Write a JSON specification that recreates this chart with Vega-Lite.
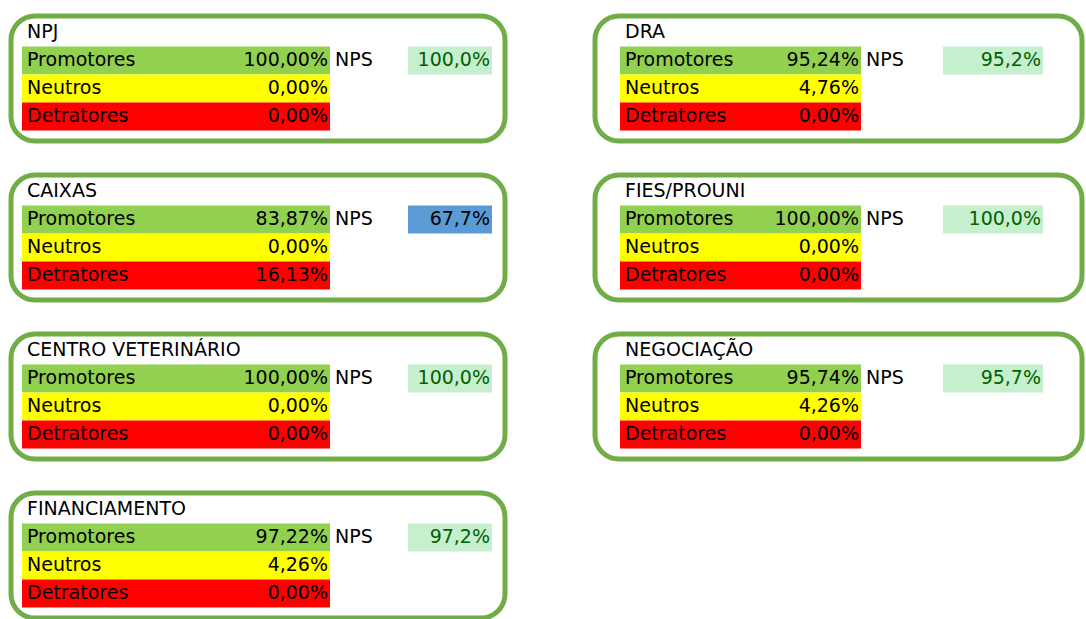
{
  "$schema": "https://vega.github.io/schema/vega-lite/v6.json",
  "background": "white",
  "padding": {"left": 8, "top": 13, "right": 0, "bottom": 0},
  "config": {
    "locale": {"number": {"decimal": ",", "thousands": ".", "grouping": [3], "currency": ["R$", ""]}},
    "view": {"stroke": "#70AD47", "strokeWidth": 5, "cornerRadius": 24, "fill": "white"},
    "axis": {"disable": true},
    "text": {"font": "DejaVu Sans", "fontSize": 19, "color": "#000000", "baseline": "middle"}
  },
  "data": {"values": [
    {"panel": "NPJ", "col": "L", "ord": 1, "cat": "Promotores", "pct": 1.0, "nps": 1.0},
    {"panel": "NPJ", "col": "L", "ord": 1, "cat": "Neutros", "pct": 0.0, "nps": 1.0},
    {"panel": "NPJ", "col": "L", "ord": 1, "cat": "Detratores", "pct": 0.0, "nps": 1.0},
    {"panel": "CAIXAS", "col": "L", "ord": 2, "cat": "Promotores", "pct": 0.8387, "nps": 0.677},
    {"panel": "CAIXAS", "col": "L", "ord": 2, "cat": "Neutros", "pct": 0.0, "nps": 0.677},
    {"panel": "CAIXAS", "col": "L", "ord": 2, "cat": "Detratores", "pct": 0.1613, "nps": 0.677},
    {"panel": "CENTRO VETERINÁRIO", "col": "L", "ord": 3, "cat": "Promotores", "pct": 1.0, "nps": 1.0},
    {"panel": "CENTRO VETERINÁRIO", "col": "L", "ord": 3, "cat": "Neutros", "pct": 0.0, "nps": 1.0},
    {"panel": "CENTRO VETERINÁRIO", "col": "L", "ord": 3, "cat": "Detratores", "pct": 0.0, "nps": 1.0},
    {"panel": "FINANCIAMENTO", "col": "L", "ord": 4, "cat": "Promotores", "pct": 0.9722, "nps": 0.972},
    {"panel": "FINANCIAMENTO", "col": "L", "ord": 4, "cat": "Neutros", "pct": 0.0426, "nps": 0.972},
    {"panel": "FINANCIAMENTO", "col": "L", "ord": 4, "cat": "Detratores", "pct": 0.0, "nps": 0.972},
    {"panel": "DRA", "col": "R", "ord": 1, "cat": "Promotores", "pct": 0.9524, "nps": 0.952},
    {"panel": "DRA", "col": "R", "ord": 1, "cat": "Neutros", "pct": 0.0476, "nps": 0.952},
    {"panel": "DRA", "col": "R", "ord": 1, "cat": "Detratores", "pct": 0.0, "nps": 0.952},
    {"panel": "FIES/PROUNI", "col": "R", "ord": 2, "cat": "Promotores", "pct": 1.0, "nps": 1.0},
    {"panel": "FIES/PROUNI", "col": "R", "ord": 2, "cat": "Neutros", "pct": 0.0, "nps": 1.0},
    {"panel": "FIES/PROUNI", "col": "R", "ord": 2, "cat": "Detratores", "pct": 0.0, "nps": 1.0},
    {"panel": "NEGOCIAÇÃO", "col": "R", "ord": 3, "cat": "Promotores", "pct": 0.9574, "nps": 0.957},
    {"panel": "NEGOCIAÇÃO", "col": "R", "ord": 3, "cat": "Neutros", "pct": 0.0426, "nps": 0.957},
    {"panel": "NEGOCIAÇÃO", "col": "R", "ord": 3, "cat": "Detratores", "pct": 0.0, "nps": 0.957}
  ]},
  "resolve": {"scale": {"x": "independent", "y": "independent"}},
  "spacing": 84,
  "hconcat": [
    {
      "transform": [{"filter": "datum.col == 'L'"}],
      "facet": {"row": {"field": "ord", "type": "ordinal", "header": {"labels": false, "title": null, "labelPadding": 0, "titlePadding": 0}}},
      "spacing": 28,
      "spec": {
        "width": 494,
        "height": 125,
        "layer": [
          {
            "mark": {"type": "rect"},
            "encoding": {
              "x": {"datum": 11, "type": "quantitative", "scale": {"domain": [0, 494], "nice": false, "zero": false}, "axis": null},
              "x2": {"datum": 319},
              "y": {"field": "cat", "type": "nominal", "scale": {"domain": ["title", "Promotores", "Neutros", "Detratores"], "paddingInner": 0, "paddingOuter": 0.232, "align": 0.19}, "axis": null},
              "color": {"field": "cat", "type": "nominal", "scale": {"domain": ["Promotores", "Neutros", "Detratores"], "range": ["#92D050", "#FFFF00", "#FF0000"]}, "legend": null}
            }
          },
          {
            "mark": {"type": "text", "align": "left"},
            "encoding": {"x": {"datum": 16, "type": "quantitative"}, "y": {"field": "cat", "type": "nominal"}, "text": {"field": "cat"}}
          },
          {
            "mark": {"type": "text", "align": "right"},
            "encoding": {"x": {"datum": 317, "type": "quantitative"}, "y": {"field": "cat", "type": "nominal"}, "text": {"field": "pct", "type": "quantitative", "format": ".2%"}}
          },
          {
            "transform": [{"filter": "datum.cat == 'Promotores'"}],
            "mark": {"type": "text", "align": "left"},
            "encoding": {"x": {"datum": 16, "type": "quantitative"}, "y": {"datum": "title", "type": "nominal"}, "text": {"field": "panel"}}
          },
          {
            "transform": [{"filter": "datum.cat == 'Promotores'"}],
            "mark": {"type": "text", "align": "left", "text": "NPS"},
            "encoding": {"x": {"datum": 324, "type": "quantitative"}, "y": {"field": "cat", "type": "nominal"}}
          },
          {
            "transform": [{"filter": "datum.cat == 'Promotores'"}],
            "mark": {"type": "rect"},
            "encoding": {
              "x": {"datum": 397, "type": "quantitative"}, "x2": {"datum": 481},
              "y": {"field": "cat", "type": "nominal"},
              "fill": {"condition": {"test": "datum.nps < 0.9", "value": "#5B9BD5"}, "value": "#C6EFCE"}
            }
          },
          {
            "transform": [{"filter": "datum.cat == 'Promotores'"}],
            "mark": {"type": "text", "align": "right"},
            "encoding": {
              "x": {"datum": 479, "type": "quantitative"}, "y": {"field": "cat", "type": "nominal"},
              "text": {"field": "nps", "type": "quantitative", "format": ".1%"},
              "color": {"condition": {"test": "datum.nps < 0.9", "value": "#000000"}, "value": "#006100"}
            }
          }
        ]
      }
    },
    {
      "transform": [{"filter": "datum.col == 'R'"}],
      "facet": {"row": {"field": "ord", "type": "ordinal", "header": {"labels": false, "title": null, "labelPadding": 0, "titlePadding": 0}}},
      "spacing": 28,
      "spec": {
        "width": 487,
        "height": 125,
        "layer": [
          {
            "mark": {"type": "rect"},
            "encoding": {
              "x": {"datum": 25, "type": "quantitative", "scale": {"domain": [0, 487], "nice": false, "zero": false}, "axis": null},
              "x2": {"datum": 266},
              "y": {"field": "cat", "type": "nominal", "scale": {"domain": ["title", "Promotores", "Neutros", "Detratores"], "paddingInner": 0, "paddingOuter": 0.232, "align": 0.19}, "axis": null},
              "color": {"field": "cat", "type": "nominal", "scale": {"domain": ["Promotores", "Neutros", "Detratores"], "range": ["#92D050", "#FFFF00", "#FF0000"]}, "legend": null}
            }
          },
          {
            "mark": {"type": "text", "align": "left"},
            "encoding": {"x": {"datum": 30, "type": "quantitative"}, "y": {"field": "cat", "type": "nominal"}, "text": {"field": "cat"}}
          },
          {
            "mark": {"type": "text", "align": "right"},
            "encoding": {"x": {"datum": 264, "type": "quantitative"}, "y": {"field": "cat", "type": "nominal"}, "text": {"field": "pct", "type": "quantitative", "format": ".2%"}}
          },
          {
            "transform": [{"filter": "datum.cat == 'Promotores'"}],
            "mark": {"type": "text", "align": "left"},
            "encoding": {"x": {"datum": 30, "type": "quantitative"}, "y": {"datum": "title", "type": "nominal"}, "text": {"field": "panel"}}
          },
          {
            "transform": [{"filter": "datum.cat == 'Promotores'"}],
            "mark": {"type": "text", "align": "left", "text": "NPS"},
            "encoding": {"x": {"datum": 271, "type": "quantitative"}, "y": {"field": "cat", "type": "nominal"}}
          },
          {
            "transform": [{"filter": "datum.cat == 'Promotores'"}],
            "mark": {"type": "rect"},
            "encoding": {
              "x": {"datum": 348, "type": "quantitative"}, "x2": {"datum": 448},
              "y": {"field": "cat", "type": "nominal"},
              "fill": {"condition": {"test": "datum.nps < 0.9", "value": "#5B9BD5"}, "value": "#C6EFCE"}
            }
          },
          {
            "transform": [{"filter": "datum.cat == 'Promotores'"}],
            "mark": {"type": "text", "align": "right"},
            "encoding": {
              "x": {"datum": 446, "type": "quantitative"}, "y": {"field": "cat", "type": "nominal"},
              "text": {"field": "nps", "type": "quantitative", "format": ".1%"},
              "color": {"condition": {"test": "datum.nps < 0.9", "value": "#000000"}, "value": "#006100"}
            }
          }
        ]
      }
    }
  ]
}
